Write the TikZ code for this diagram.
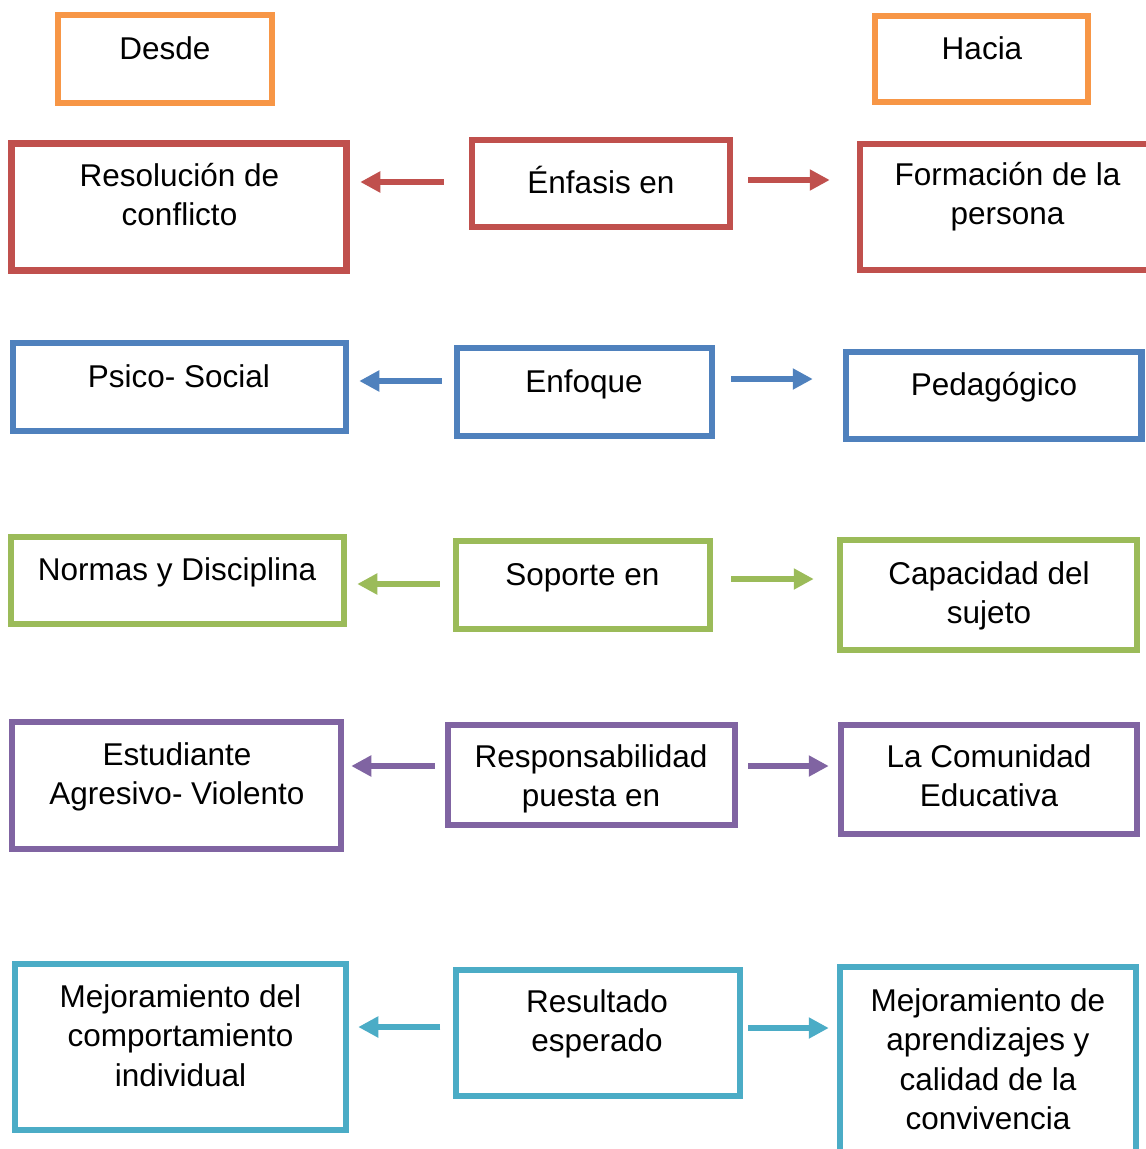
\documentclass[tikz,border=0pt]{standalone}
\usepackage{fontspec}
\setmainfont{Liberation Sans}
\usetikzlibrary{arrows.meta,calc,fit}
\definecolor{cOrange}{HTML}{F79646}
\definecolor{cRed}{HTML}{C0504D}
\definecolor{cBlue}{HTML}{4F81BD}
\definecolor{cGreen}{HTML}{9BBB59}
\definecolor{cPurple}{HTML}{8064A2}
\definecolor{cTeal}{HTML}{4BACC6}
\tikzset{
  boxframe/.style={draw=#1, line width=6.5pt, inner sep=0pt, rectangle},
  boxtext/.style={font=\fontsize{31.5}{39.5}\selectfont, align=center, inner sep=0pt, anchor=north, text=black},
  conn/.style={draw=#1, line width=6.5pt, -{Triangle[length=20pt,width=20pt]}}
}
\newcommand\firstln{\rule{0pt}{36pt}}
\begin{document}
\begin{tikzpicture}[x=1pt,y=-1pt]
\useasboundingbox (0,0) rectangle (1146,1149);
\fill[white] (0,0) rectangle (1146,1149);
% header
\node[boxframe=cOrange, fit={(58,15) (272,103)}] (desde) {};
\node[boxtext] (desde-t) at (165,23) {\firstln Desde};
\node[boxframe=cOrange, fit={(875,16) (1088,102)}] (hacia) {};
\node[boxtext] (hacia-t) at (982,23) {\firstln Hacia};
% row 1
\node[boxframe=cRed, fit={(11.5,143.5) (346.5,270.5)}] (res) {};
\node[boxtext] (res-t) at (179.5,150) {\firstln Resolución de\\conflicto};
\node[boxframe=cRed, fit={(472,140) (730,227)}] (enf) {};
\node[boxtext] (enf-t) at (601,157) {\firstln Énfasis en};
\node[boxframe=cRed, fit={(860,144) (1152,270)}] (for) {};
\node[boxtext] (for-t) at (1007.5,149) {\firstln Formación de la\\persona};
% row 2
\node[boxframe=cBlue, fit={(13,343) (346,431)}] (psi) {};
\node[boxtext] (psi-t) at (179,351) {\firstln Psico- Social};
\node[boxframe=cBlue, fit={(457,348) (712,436)}] (enfq) {};
\node[boxtext] (enfq-t) at (584,356) {\firstln Enfoque};
\node[boxframe=cBlue, fit={(846,352) (1141.5,439)}] (ped) {};
\node[boxtext] (ped-t) at (994,359) {\firstln Pedagógico};
% row 3
\node[boxframe=cGreen, fit={(11,537) (344,624)}] (nor) {};
\node[boxtext] (nor-t) at (177,544) {\firstln Normas y Disciplina};
\node[boxframe=cGreen, fit={(456,541) (710,629)}] (sop) {};
\node[boxtext] (sop-t) at (582.5,549) {\firstln Soporte en};
\node[boxframe=cGreen, fit={(840,540) (1137,650)}] (cap) {};
\node[boxtext] (cap-t) at (989,548) {\firstln Capacidad del\\sujeto};
% row 4
\node[boxframe=cPurple, fit={(12,722) (341,849)}] (est) {};
\node[boxtext] (est-t) at (177,729) {\firstln Estudiante\\Agresivo- Violento};
\node[boxframe=cPurple, fit={(448,725) (735,825)}] (resp) {};
\node[boxtext] (resp-t) at (591,731) {\firstln Responsabilidad\\puesta en};
\node[boxframe=cPurple, fit={(841,725) (1137,834)}] (com) {};
\node[boxtext] (com-t) at (989,731) {\firstln La Comunidad\\Educativa};
% row 5
\node[boxframe=cTeal, fit={(15,964) (346,1130)}] (mej) {};
\node[boxtext] (mej-t) at (180.5,971) {\firstln Mejoramiento del\\comportamiento\\individual};
\node[boxframe=cTeal, fit={(456,970) (740,1096)}] (resu) {};
\node[boxtext] (resu-t) at (597,976) {\firstln Resultado\\esperado};
\node[boxframe=cTeal, fit={(840,967) (1136,1165)}] (apr) {};
\node[boxtext] (apr-t) at (988,975) {\firstln Mejoramiento de\\aprendizajes y\\calidad de la\\convivencia};
% connectors
\draw[conn=cRed] ($(enf.west)+(-25,-1.5)$) -- ($(res.east)+(10.5,-25)$);
\draw[conn=cRed] ($(enf.east)+(15,-3.5)$) -- ($(for.west)+(-27,-27)$);
\draw[conn=cBlue] ($(enfq.west)+(-12,-11)$) -- ($(psi.east)+(10,-6)$);
\draw[conn=cBlue] ($(enfq.east)+(16,-13)$) -- ($(ped.west)+(-30,-16.5)$);
\draw[conn=cGreen] ($(sop.west)+(-13,-1)$) -- ($(nor.east)+(10,3.5)$);
\draw[conn=cGreen] ($(sop.east)+(18,-6)$) -- ($(cap.west)+(-23,-16)$);
\draw[conn=cPurple] ($(resp.west)+(-10,-9)$) -- ($(est.east)+(7,-19.5)$);
\draw[conn=cPurple] ($(resp.east)+(10,-9)$) -- ($(com.west)+(-9,-13.5)$);
\draw[conn=cTeal] ($(resu.west)+(-12.5,-6)$) -- ($(mej.east)+(9,-20)$);
\draw[conn=cTeal] ($(resu.east)+(5,-5)$) -- ($(apr.west)+(-8,-38)$);
\end{tikzpicture}
\end{document}
